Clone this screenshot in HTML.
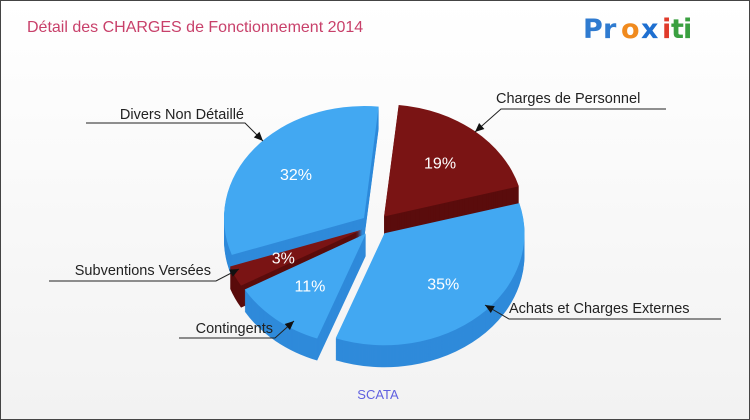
<!DOCTYPE html>
<html><head><meta charset="utf-8"><style>
body{margin:0}
#c{width:748px;height:418px;border:1px solid #444;background:linear-gradient(#fff,#f2f2f2);position:relative;font-family:"Liberation Sans",sans-serif;overflow:hidden}
svg{position:absolute;left:0;top:0}
</style></head><body>
<div id="c">
<svg id="s" width="748" height="418">
<text x="26" y="31" font-size="16" fill="#C8406A">Détail des CHARGES de Fonctionnement 2014</text>
<g font-size="27" font-weight="bold" font-family="'DejaVu Sans',sans-serif">
<text x="582" y="37" fill="#2F7BD0">P</text><text x="602" y="37" fill="#2F7BD0">r</text><text x="620" y="37" fill="#F08A1E">o</text><text x="640" y="37" fill="#1E6FD0">x</text><text x="661" y="37" fill="#E03A2A">i</text><text x="670" y="37" fill="#3AA040">t</text><text x="682" y="37" fill="#3AA040">i</text></g>
<text x="377" y="398" font-size="13" fill="#6060E0" text-anchor="middle">SCATA</text>
<g id="pie"></g>
<g id="ann" font-size="14.5" fill="#222" stroke-width="1"></g>
</svg>
</div>
<script>
const categories=["Charges de Personnel","Achats et Charges Externes","Contingents","Subventions Versées","Divers Non Détaillé"];
const values=[19,35,11,3,32];
const colors=["#7A1414","#42A8F2","#42A8F2","#7A1414","#42A8F2"];
const sides=["#5A0C0C","#2F8ADA","#2F8ADA","#5A0C0C","#2F8ADA"];
const NS="http://www.w3.org/2000/svg";
const cx=374,cy=224,rx=140,ry=112,depth=22,ex=14;
const pie=document.getElementById('pie');
const total=values.reduce((a,b)=>a+b,0);
function pt(a,r,ox,oy){return [cx+ox+r*rx*Math.cos(a),cy+oy+r*ry*Math.sin(a)];}
let a0=-84*Math.PI/180;const sl=[];
values.forEach((v,i)=>{const a1=a0+v/total*2*Math.PI;const m=(a0+a1)/2;sl.push({i,a0,a1,m,ox:Math.cos(m)*ex,oy:Math.sin(m)*ex*ry/rx});a0=a1;});
function path(s,dy){const p0=pt(s.a0,1,s.ox,s.oy+dy),p1=pt(s.a1,1,s.ox,s.oy+dy);const large=(s.a1-s.a0)>Math.PI?1:0;
return `M${cx+s.ox},${cy+s.oy+dy} L${p0[0]},${p0[1]} A${rx},${ry} 0 ${large} 1 ${p1[0]},${p1[1]} Z`;}
const order=[...sl].sort((a,b)=>Math.sin(a.m)-Math.sin(b.m));
order.forEach(s=>{
 const g=document.createElementNS(NS,'g');
 
 
 for(let d=depth;d>0;d-=1){const p=document.createElementNS(NS,'path');p.setAttribute('d',path(s,d));p.setAttribute('fill',sides[s.i]);g.appendChild(p);}
 const t=document.createElementNS(NS,'path');t.setAttribute('d',path(s,0));t.setAttribute('fill',colors[s.i]);g.appendChild(t);
 pie.appendChild(g);
});
sl.forEach(s=>{const p=pt(s.m,0.62,s.ox,s.oy);const t=document.createElementNS(NS,'text');
 t.setAttribute('x',p[0]);t.setAttribute('y',p[1]+5);t.setAttribute('text-anchor','middle');t.setAttribute('font-size','16');t.setAttribute('fill','#fff');
 
 
 t.textContent=values[s.i]+'%';pie.appendChild(t);});
const ann=[
 {tip:[474,131],elb:[500,108],end:665,tx:495,ty:102,anchor:'start'},
 {tip:[484,304],elb:[508,318],end:720,tx:508,ty:312,anchor:'start'},
 {tip:[293,320],elb:[274,337],end:178,tx:272,ty:332,anchor:'end'},
 {tip:[238,268],elb:[215,280],end:48,tx:210,ty:274,anchor:'end'},
 {tip:[262,140],elb:[244,122],end:85,tx:243,ty:118,anchor:'end'}];
const ag=document.getElementById('ann');
ann.forEach((a,i)=>{
 const pl=document.createElementNS(NS,'polyline');pl.setAttribute('points',`${a.tip} ${a.elb} ${a.end},${a.elb[1]}`);pl.setAttribute('fill','none');pl.setAttribute('stroke','#222');
 
 
 ag.appendChild(pl);
 const dx=a.tip[0]-a.elb[0],dy=a.tip[1]-a.elb[1],L=Math.hypot(dx,dy),ux=dx/L,uy=dy/L;
 const b=[a.tip[0]-ux*9,a.tip[1]-uy*9];
 const ar=document.createElementNS(NS,'polygon');ar.setAttribute('points',`${a.tip} ${b[0]-uy*4},${b[1]+ux*4} ${b[0]+uy*4},${b[1]-ux*4}`);ar.setAttribute('fill','#111');
 
 
 ag.appendChild(ar);
 const t=document.createElementNS(NS,'text');t.setAttribute('x',a.tx);t.setAttribute('y',a.ty);t.setAttribute('text-anchor',a.anchor);
 
 
 t.textContent=categories[i];ag.appendChild(t);});
</script>
</body></html>
